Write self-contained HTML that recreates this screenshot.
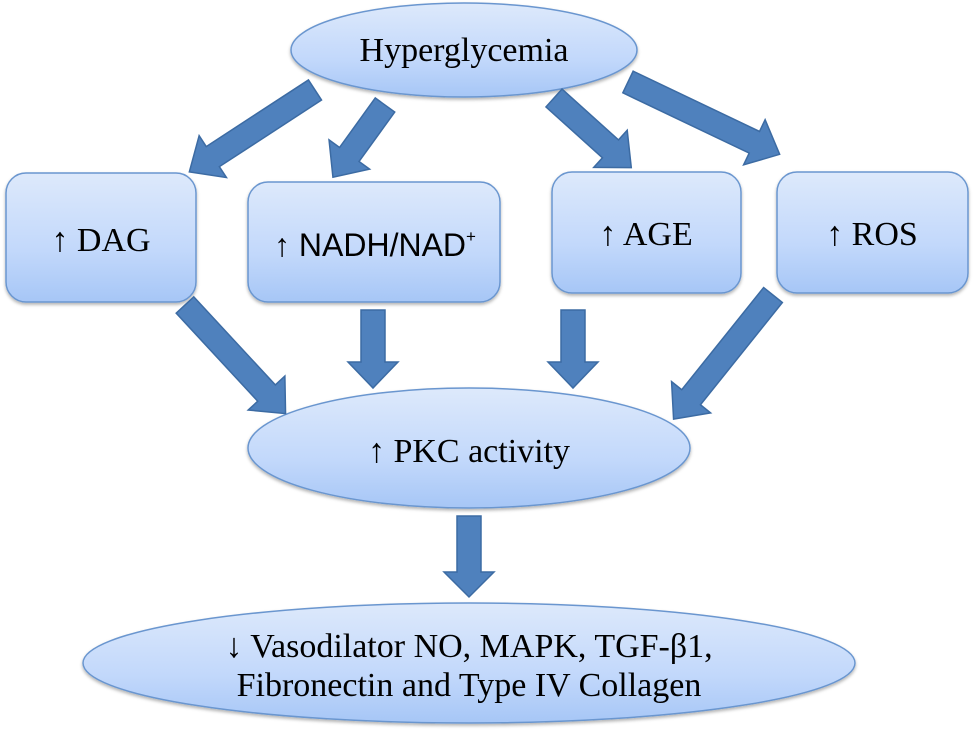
<!DOCTYPE html>
<html><head><meta charset="utf-8"><style>
html,body{margin:0;padding:0;background:#fff;}
svg{display:block;}
text{font-family:"Liberation Serif",serif;fill:#000;}
</style></head><body>
<svg width="973" height="730" viewBox="0 0 973 730" xmlns="http://www.w3.org/2000/svg">
<defs>
<linearGradient id="g" x1="0" y1="0" x2="0" y2="1">
<stop offset="0" stop-color="#dde9fb"/><stop offset="0.6" stop-color="#c2d8fb"/><stop offset="1" stop-color="#a6c6f6"/>
</linearGradient>
<filter id="sh" x="-10%" y="-10%" width="120%" height="130%"><feDropShadow dx="0" dy="2" stdDeviation="1.5" flood-color="#000" flood-opacity="0.3"/></filter>
</defs>
<g fill="url(#g)" stroke="#6a96cf" stroke-width="1.5" filter="url(#sh)">
<ellipse cx="464" cy="50" rx="173" ry="47"/>
<rect x="6" y="173" width="190" height="129" rx="20"/>
<rect x="248" y="182" width="252" height="120" rx="20"/>
<rect x="552" y="172" width="189" height="121" rx="20"/>
<rect x="777" y="172" width="191" height="121" rx="20"/>
<ellipse cx="469" cy="448" rx="221" ry="60"/>
<ellipse cx="469" cy="663" rx="386" ry="60"/>
</g>
<g fill="#4f81bd" stroke="#3c6ba3" stroke-width="1.5">
<g transform="translate(315,90) rotate(146.9)"><polygon points="0,-12 122,-12 122,-25 150,0 122,25 122,12 0,12"/></g>
<g transform="translate(385,105) rotate(125.8)"><polygon points="0,-12 61,-12 61,-25 89,0 61,25 61,12 0,12"/></g>
<g transform="translate(554,98) rotate(42)"><polygon points="0,-12 76,-12 76,-25 104,0 76,25 76,12 0,12"/></g>
<g transform="translate(628,82) rotate(25.5)"><polygon points="0,-12 140,-12 140,-25 168,0 140,25 140,12 0,12"/></g>
<g transform="translate(185,305) rotate(47.2)"><polygon points="0,-12 120,-12 120,-25 148,0 120,25 120,12 0,12"/></g>
<g transform="translate(373,310) rotate(90)"><polygon points="0,-12 52,-12 52,-25 78,0 52,25 52,12 0,12"/></g>
<g transform="translate(573,310) rotate(90)"><polygon points="0,-12 52,-12 52,-25 78,0 52,25 52,12 0,12"/></g>
<g transform="translate(773,295) rotate(128.7)"><polygon points="0,-12 131,-12 131,-25 159,0 131,25 131,12 0,12"/></g>
<g transform="translate(469,516) rotate(90)"><polygon points="0,-12 56,-12 56,-25 81,0 56,25 56,12 0,12"/></g>
</g>
<g style="font-size:34px" text-anchor="middle">
<text x="464" y="61">Hyperglycemia</text>
<text x="101" y="251">↑ DAG</text>
<text x="375" y="256" style="font-family:'Liberation Sans',sans-serif;font-size:32px">↑  NADH/NAD<tspan style="font-size:17px" dy="-14">+</tspan></text>
<text x="646" y="245">↑ AGE</text>
<text x="872" y="245">↑ ROS</text>
<text x="469" y="462">↑ PKC activity</text>
<text x="469" y="657">↓ Vasodilator NO, MAPK, TGF-β1,</text>
<text x="469" y="696">Fibronectin and Type IV Collagen</text>
</g>
</svg>
</body></html>
